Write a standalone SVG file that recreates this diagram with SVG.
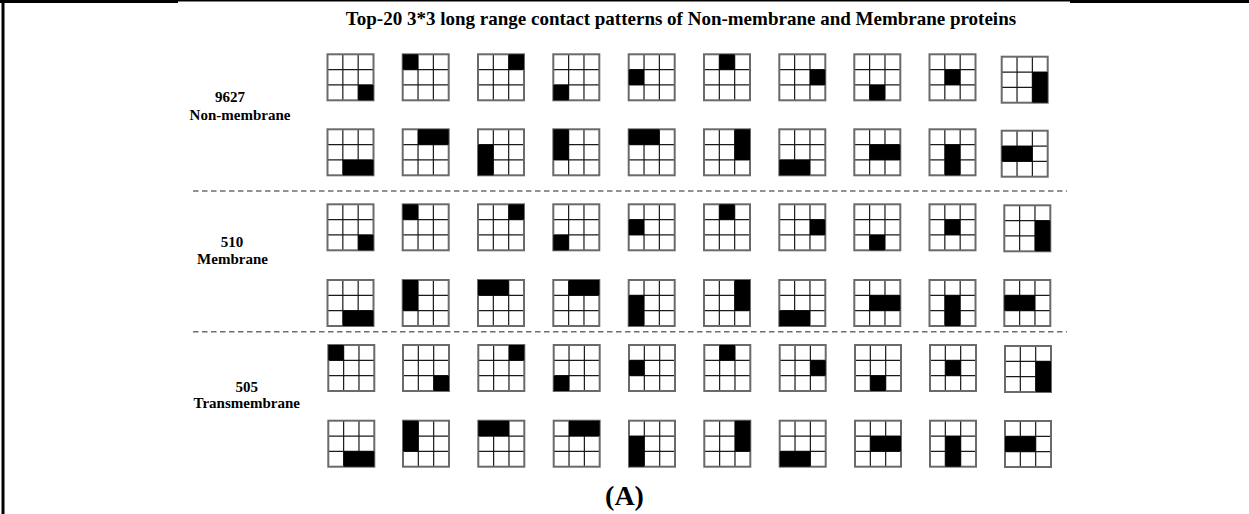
<svg xmlns="http://www.w3.org/2000/svg" xmlns:xlink="http://www.w3.org/1999/xlink" width="1249" height="514" viewBox="0 0 1249 514">
<style>
.t{font-family:"Liberation Serif","Times New Roman",serif;font-weight:bold;fill:#000;text-anchor:middle}
.title{font-size:19px}
.lab{font-size:15px}
.cap{font-size:28px}
.dash{stroke:#6e6e6e;stroke-width:1.5;stroke-dasharray:5.5 3.5;fill:none}
.f{fill:#000}
</style>
<defs>
<g id="grid">
<rect x="0" y="0" width="46" height="46" fill="#fff"/>
<path d="M15.33 0V46M30.67 0V46M0 15.33H46M0 30.67H46" stroke="#1a1a1a" stroke-width="1.2" fill="none"/>
<rect x="0" y="0" width="46" height="46" fill="none" stroke="#6a6a6a" stroke-width="2"/>
</g>
<rect id="c" width="15.33" height="15.33"/>
<rect id="h2" width="30.67" height="15.33"/>
<rect id="v2" width="15.33" height="30.67"/>
</defs>
<rect width="1249" height="514" fill="#fff"/>
<g id="frame">
<path d="M0 1.5H178" stroke="#000" stroke-width="3"/>
<path d="M178 0.7H1070" stroke="#000" stroke-width="1.4"/>
<path d="M1070 1.5H1249" stroke="#000" stroke-width="3"/>
<path d="M3 0V514" stroke="#000" stroke-width="3"/>
</g>
<text class="t title" x="681" y="25">Top-20 3*3 long range contact patterns of Non-membrane and Membrane proteins</text>
<g id="labels">
<text class="t lab" x="230" y="102">9627</text>
<text class="t lab" x="240" y="120">Non-membrane</text>
<text class="t lab" x="232" y="246.5">510</text>
<text class="t lab" x="232.5" y="264">Membrane</text>
<text class="t lab" x="246.7" y="391.5">505</text>
<text class="t lab" x="246.7" y="408">Transmembrane</text>
</g>
<g id="connectors">
<path class="dash" d="M193 191H1067"/>
<path class="dash" d="M193 331.7H1067"/>
</g>
<!-- Section 1: Non-membrane -->
<g id="nm-r1-1" transform="translate(327.5,54.3)"><use href="#grid"/><use href="#c" class="f" x="30.67" y="30.67"/></g>
<g id="nm-r1-2" transform="translate(402.7,54.3)"><use href="#grid"/><use href="#c" class="f" x="0" y="0"/></g>
<g id="nm-r1-3" transform="translate(478,54.3)"><use href="#grid"/><use href="#c" class="f" x="30.67" y="0"/></g>
<g id="nm-r1-4" transform="translate(553.3,54.3)"><use href="#grid"/><use href="#c" class="f" x="0" y="30.67"/></g>
<g id="nm-r1-5" transform="translate(628.7,54.3)"><use href="#grid"/><use href="#c" class="f" x="0" y="15.33"/></g>
<g id="nm-r1-6" transform="translate(704,54.3)"><use href="#grid"/><use href="#c" class="f" x="15.33" y="0"/></g>
<g id="nm-r1-7" transform="translate(779.3,54.3)"><use href="#grid"/><use href="#c" class="f" x="30.67" y="15.33"/></g>
<g id="nm-r1-8" transform="translate(854.3,54.3)"><use href="#grid"/><use href="#c" class="f" x="15.33" y="30.67"/></g>
<g id="nm-r1-9" transform="translate(929.5,54.3)"><use href="#grid"/><use href="#c" class="f" x="15.33" y="15.33"/></g>
<g id="nm-r1-10" transform="translate(1001.7,56.7)"><use href="#grid"/><use href="#v2" class="f" x="30.67" y="15.33"/></g>
<g id="nm-r2-1" transform="translate(327.5,129.3)"><use href="#grid"/><use href="#h2" class="f" x="15.33" y="30.67"/></g>
<g id="nm-r2-2" transform="translate(402.7,129.3)"><use href="#grid"/><use href="#h2" class="f" x="15.33" y="0"/></g>
<g id="nm-r2-3" transform="translate(478,129.3)"><use href="#grid"/><use href="#v2" class="f" x="0" y="15.33"/></g>
<g id="nm-r2-4" transform="translate(553.3,129.3)"><use href="#grid"/><use href="#v2" class="f" x="0" y="0"/></g>
<g id="nm-r2-5" transform="translate(628.7,129.3)"><use href="#grid"/><use href="#h2" class="f" x="0" y="0"/></g>
<g id="nm-r2-6" transform="translate(704,129.3)"><use href="#grid"/><use href="#v2" class="f" x="30.67" y="0"/></g>
<g id="nm-r2-7" transform="translate(779.3,129.3)"><use href="#grid"/><use href="#h2" class="f" x="0" y="30.67"/></g>
<g id="nm-r2-8" transform="translate(854.3,129.3)"><use href="#grid"/><use href="#h2" class="f" x="15.33" y="15.33"/></g>
<g id="nm-r2-9" transform="translate(929.5,129.3)"><use href="#grid"/><use href="#v2" class="f" x="15.33" y="15.33"/></g>
<g id="nm-r2-10" transform="translate(1001.7,130.7)"><use href="#grid"/><use href="#h2" class="f" x="0" y="15.33"/></g>
<!-- Section 2: Membrane -->
<g id="m-r1-1" transform="translate(327.5,204.3)"><use href="#grid"/><use href="#c" class="f" x="30.67" y="30.67"/></g>
<g id="m-r1-2" transform="translate(402.7,204.3)"><use href="#grid"/><use href="#c" class="f" x="0" y="0"/></g>
<g id="m-r1-3" transform="translate(478,204.3)"><use href="#grid"/><use href="#c" class="f" x="30.67" y="0"/></g>
<g id="m-r1-4" transform="translate(553.3,204.3)"><use href="#grid"/><use href="#c" class="f" x="0" y="30.67"/></g>
<g id="m-r1-5" transform="translate(628.7,204.3)"><use href="#grid"/><use href="#c" class="f" x="0" y="15.33"/></g>
<g id="m-r1-6" transform="translate(704,204.3)"><use href="#grid"/><use href="#c" class="f" x="15.33" y="0"/></g>
<g id="m-r1-7" transform="translate(779.3,204.3)"><use href="#grid"/><use href="#c" class="f" x="30.67" y="15.33"/></g>
<g id="m-r1-8" transform="translate(854.3,204.3)"><use href="#grid"/><use href="#c" class="f" x="15.33" y="30.67"/></g>
<g id="m-r1-9" transform="translate(929.5,204.3)"><use href="#grid"/><use href="#c" class="f" x="15.33" y="15.33"/></g>
<g id="m-r1-10" transform="translate(1004.3,205.3)"><use href="#grid"/><use href="#v2" class="f" x="30.67" y="15.33"/></g>
<g id="m-r2-1" transform="translate(327.5,280)"><use href="#grid"/><use href="#h2" class="f" x="15.33" y="30.67"/></g>
<g id="m-r2-2" transform="translate(402.7,280)"><use href="#grid"/><use href="#v2" class="f" x="0" y="0"/></g>
<g id="m-r2-3" transform="translate(478,280)"><use href="#grid"/><use href="#h2" class="f" x="0" y="0"/></g>
<g id="m-r2-4" transform="translate(553.3,280)"><use href="#grid"/><use href="#h2" class="f" x="15.33" y="0"/></g>
<g id="m-r2-5" transform="translate(628.7,280)"><use href="#grid"/><use href="#v2" class="f" x="0" y="15.33"/></g>
<g id="m-r2-6" transform="translate(704,280)"><use href="#grid"/><use href="#v2" class="f" x="30.67" y="0"/></g>
<g id="m-r2-7" transform="translate(779.3,280)"><use href="#grid"/><use href="#h2" class="f" x="0" y="30.67"/></g>
<g id="m-r2-8" transform="translate(854.3,280)"><use href="#grid"/><use href="#h2" class="f" x="15.33" y="15.33"/></g>
<g id="m-r2-9" transform="translate(929.5,280)"><use href="#grid"/><use href="#v2" class="f" x="15.33" y="15.33"/></g>
<g id="m-r2-10" transform="translate(1004.3,280)"><use href="#grid"/><use href="#h2" class="f" x="0" y="15.33"/></g>
<!-- Section 3: Transmembrane -->
<g id="tm-r1-1" transform="translate(328.3,345)"><use href="#grid"/><use href="#c" class="f" x="0" y="0"/></g>
<g id="tm-r1-2" transform="translate(403,345)"><use href="#grid"/><use href="#c" class="f" x="30.67" y="30.67"/></g>
<g id="tm-r1-3" transform="translate(478.3,345)"><use href="#grid"/><use href="#c" class="f" x="30.67" y="0"/></g>
<g id="tm-r1-4" transform="translate(553.7,345)"><use href="#grid"/><use href="#c" class="f" x="0" y="30.67"/></g>
<g id="tm-r1-5" transform="translate(629,345)"><use href="#grid"/><use href="#c" class="f" x="0" y="15.33"/></g>
<g id="tm-r1-6" transform="translate(704.3,345)"><use href="#grid"/><use href="#c" class="f" x="15.33" y="0"/></g>
<g id="tm-r1-7" transform="translate(779.7,345)"><use href="#grid"/><use href="#c" class="f" x="30.67" y="15.33"/></g>
<g id="tm-r1-8" transform="translate(855,345)"><use href="#grid"/><use href="#c" class="f" x="15.33" y="30.67"/></g>
<g id="tm-r1-9" transform="translate(930,345)"><use href="#grid"/><use href="#c" class="f" x="15.33" y="15.33"/></g>
<g id="tm-r1-10" transform="translate(1005,346)"><use href="#grid"/><use href="#v2" class="f" x="30.67" y="15.33"/></g>
<g id="tm-r2-1" transform="translate(328.3,420.7)"><use href="#grid"/><use href="#h2" class="f" x="15.33" y="30.67"/></g>
<g id="tm-r2-2" transform="translate(403,420.7)"><use href="#grid"/><use href="#v2" class="f" x="0" y="0"/></g>
<g id="tm-r2-3" transform="translate(478.3,420.7)"><use href="#grid"/><use href="#h2" class="f" x="0" y="0"/></g>
<g id="tm-r2-4" transform="translate(553.7,420.7)"><use href="#grid"/><use href="#h2" class="f" x="15.33" y="0"/></g>
<g id="tm-r2-5" transform="translate(629,420.7)"><use href="#grid"/><use href="#v2" class="f" x="0" y="15.33"/></g>
<g id="tm-r2-6" transform="translate(704.3,420.7)"><use href="#grid"/><use href="#v2" class="f" x="30.67" y="0"/></g>
<g id="tm-r2-7" transform="translate(779.7,420.7)"><use href="#grid"/><use href="#h2" class="f" x="0" y="30.67"/></g>
<g id="tm-r2-8" transform="translate(855,420.7)"><use href="#grid"/><use href="#h2" class="f" x="15.33" y="15.33"/></g>
<g id="tm-r2-9" transform="translate(930,420.7)"><use href="#grid"/><use href="#v2" class="f" x="15.33" y="15.33"/></g>
<g id="tm-r2-10" transform="translate(1005,421)"><use href="#grid"/><use href="#h2" class="f" x="0" y="15.33"/></g>
<text class="t cap" x="624.5" y="505">(A)</text>
</svg>
